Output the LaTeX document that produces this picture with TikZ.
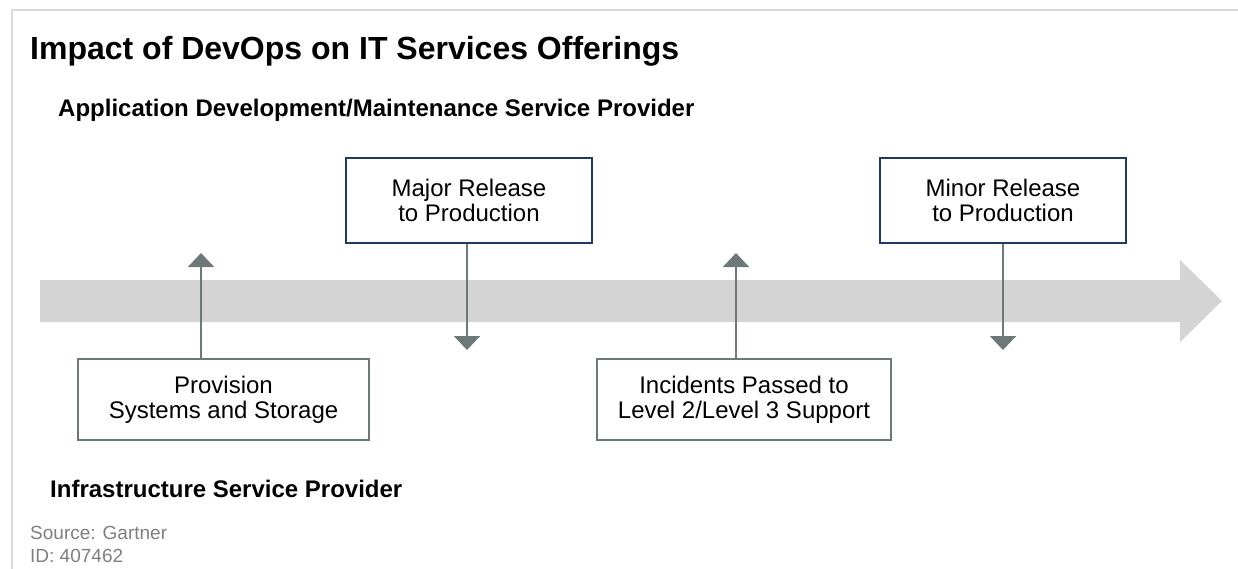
\documentclass[tikz,border=0pt]{standalone}
\usepackage{fontspec}
\setmainfont{Liberation Sans}
\usetikzlibrary{arrows.meta}
\definecolor{navy}{HTML}{1F3A5F}
\definecolor{tipgray}{HTML}{6E7878}
\definecolor{band}{HTML}{D4D4D4}
\definecolor{framegray}{HTML}{D9D9D9}
\definecolor{notegray}{HTML}{7F7F7F}
\begin{document}
\begin{tikzpicture}[x=1pt,y=-1pt,
    devbox/.style={draw=navy,line width=2pt,fill=white,minimum width=246pt,minimum height=85pt,
      align=center,inner sep=0pt,font=\fontsize{24}{25}\selectfont},
    opsbox/.style={devbox,draw=tipgray,minimum height=81pt},
    pointer/.style={draw=tipgray,line width=2pt,-{Triangle[width=26pt,length=14pt]}},
    heading/.style={anchor=base west,inner sep=0pt,font=\fontsize{24}{28}\bfseries}]
  \useasboundingbox (0,0) rectangle (1238,569);
  \draw[framegray,line width=1.5pt] (12,569) -- (12,10) -- (1238,10);
  \fill[band] (40,280) -- (1180,280) -- (1180,260) -- (1222,301) -- (1180,342) -- (1180,322) -- (40,322) -- cycle;

  \node[heading,font=\fontsize{32}{36}\bfseries] (title) at (30,60) {Impact of DevOps on IT Services Offerings};
  \node[heading] (appdev) at (58,117) {Application Development/Maintenance Service Provider};
  \node[heading] (infra) at (50,497) {Infrastructure Service Provider};
  \node[anchor=base west,inner sep=0pt,align=left,text=notegray,font=\fontsize{19}{23}\selectfont] (source) at (30,562) {Source: Gartner\\ID: 407462};

  \node[devbox] (major) at (469,200.5) {Major Release\\to Production};
  \node[devbox] (minor) at (1003,200.5) {Minor Release\\to Production};
  \node[opsbox,minimum width=291pt] (provision) at (223.5,399.5) {Provision\\Systems and Storage};
  \node[opsbox,minimum width=294pt] (incidents) at (744,399.5) {Incidents Passed to\\Level 2/Level 3 Support};

  \coordinate (tipA) at (201,253);
  \coordinate (tipB) at (467,350);
  \coordinate (tipC) at (736,253);
  \coordinate (tipD) at (1003,350);
  \draw[pointer] (provision.north -| tipA) -- (tipA);
  \draw[pointer] (major.south -| tipB) -- (tipB);
  \draw[pointer] (incidents.north -| tipC) -- (tipC);
  \draw[pointer] (minor.south -| tipD) -- (tipD);
\end{tikzpicture}
\end{document}
